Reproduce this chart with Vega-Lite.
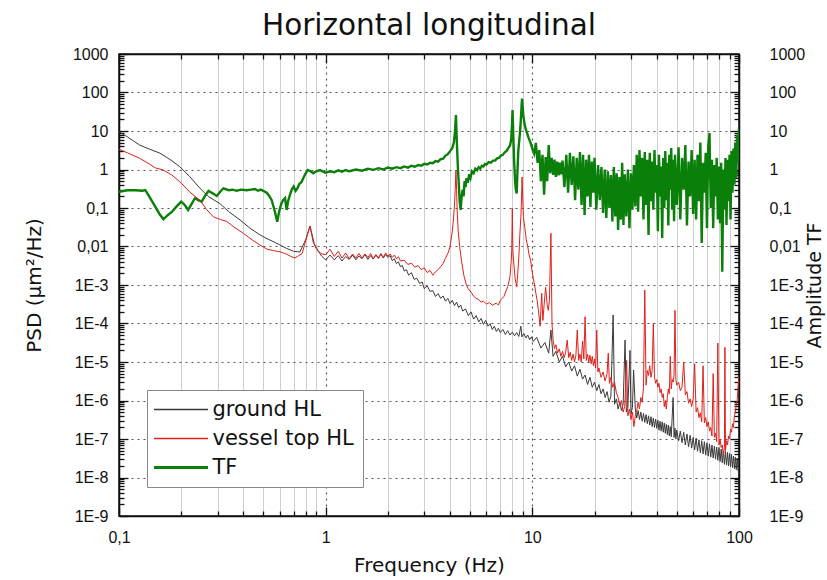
{
  "$schema": "https://vega.github.io/schema/vega-lite/v6.json",
  "width": 620,
  "height": 462,
  "autosize": {"type": "none"},
  "padding": {"left": 119, "top": 54, "right": 88, "bottom": 64},
  "title": {"text": "Horizontal longitudinal", "font": "DejaVu Sans", "fontSize": 29.5, "fontWeight": "normal", "color": "#111", "anchor": "middle", "frame": "group", "offset": 5},
  "datasets": {
    "tf": [
      {"f":0.1,"v":0.265},{"f":0.11,"v":0.29},{"f":0.12,"v":0.29},{"f":0.13,"v":0.28},{"f":0.134,"v":0.29},{"f":0.14,"v":0.2},{"f":0.149,"v":0.113},{"f":0.157,"v":0.07},{"f":0.164,"v":0.051},{"f":0.172,"v":0.065},{"f":0.18,"v":0.079},{"f":0.19,"v":0.11},{"f":0.2,"v":0.146},{"f":0.208,"v":0.12},{"f":0.216,"v":0.089},{"f":0.225,"v":0.13},{"f":0.233,"v":0.179},{"f":0.242,"v":0.16},{"f":0.251,"v":0.146},{"f":0.26,"v":0.2},{"f":0.271,"v":0.28},{"f":0.284,"v":0.24},{"f":0.297,"v":0.205},{"f":0.308,"v":0.26},{"f":0.32,"v":0.325},{"f":0.34,"v":0.29},{"f":0.355,"v":0.3},{"f":0.371,"v":0.28},{"f":0.39,"v":0.3},{"f":0.415,"v":0.29},{"f":0.435,"v":0.3},{"f":0.455,"v":0.31},{"f":0.47,"v":0.28},{"f":0.485,"v":0.3},{"f":0.499,"v":0.28},{"f":0.52,"v":0.245},{"f":0.535,"v":0.2},{"f":0.548,"v":0.16},{"f":0.565,"v":0.09},{"f":0.575,"v":0.06},{"f":0.583,"v":0.044},{"f":0.595,"v":0.08},{"f":0.61,"v":0.13},{"f":0.622,"v":0.16},{"f":0.636,"v":0.18},{"f":0.647,"v":0.089},{"f":0.658,"v":0.15},{"f":0.67,"v":0.21},{"f":0.685,"v":0.3},{"f":0.7,"v":0.36},{"f":0.715,"v":0.28},{"f":0.73,"v":0.325},{"f":0.745,"v":0.42},{"f":0.765,"v":0.48},{"f":0.78,"v":0.6},{"f":0.8,"v":0.8},{"f":0.82,"v":0.97},{"f":0.845,"v":0.9},{"f":0.87,"v":0.8},{"f":0.9,"v":0.9},{"f":0.94,"v":0.97},{"f":0.97,"v":0.88},{"f":1.0,"v":0.83},
      {"f":1.05,"v":0.9},{"f":1.1,"v":0.85},{"f":1.15,"v":0.95},{"f":1.2,"v":0.88},{"f":1.25,"v":0.97},{"f":1.3,"v":0.9},{"f":1.4,"v":1.0},{"f":1.5,"v":0.93},{"f":1.6,"v":1.05},{"f":1.7,"v":0.98},{"f":1.8,"v":1.08},{"f":1.9,"v":1.0},{"f":2.0,"v":1.12},{"f":2.1,"v":1.05},{"f":2.2,"v":1.15},{"f":2.3,"v":1.08},{"f":2.4,"v":1.2},{"f":2.5,"v":1.12},{"f":2.6,"v":1.25},{"f":2.7,"v":1.18},{"f":2.8,"v":1.3},{"f":2.9,"v":1.25},{"f":3.0,"v":1.4},{"f":3.1,"v":1.35},{"f":3.2,"v":1.5},{"f":3.3,"v":1.45},{"f":3.4,"v":1.65},{"f":3.5,"v":1.6},{"f":3.6,"v":1.85},{"f":3.7,"v":1.9},{"f":3.8,"v":2.3},{"f":3.9,"v":2.5},{"f":4.0,"v":3.0},{"f":4.1,"v":3.6},{"f":4.17,"v":5.0},{"f":4.22,"v":9},{"f":4.27,"v":26},{"f":4.3,"v":8},{"f":4.33,"v":3},{"f":4.36,"v":1.2},{"f":4.4,"v":0.5},{"f":4.45,"v":0.15},{"f":4.5,"v":0.089},{"f":4.55,"v":0.2},{"f":4.6,"v":0.3},{"f":4.65,"v":0.2},{"f":4.7,"v":0.5},{"f":4.75,"v":0.35},{"f":4.8,"v":0.6},{"f":4.87,"v":0.45},{"f":4.95,"v":0.75},{"f":5.02,"v":0.6},{"f":5.1,"v":0.9},{"f":5.2,"v":0.8},{"f":5.3,"v":1.05},{"f":5.4,"v":0.95},{"f":5.5,"v":1.15},{"f":5.6,"v":1.05},{"f":5.7,"v":1.25},{"f":5.8,"v":1.2},{"f":5.9,"v":1.4},{"f":6.0,"v":1.35},{"f":6.15,"v":1.55},{"f":6.3,"v":1.5},{"f":6.45,"v":1.7},{"f":6.6,"v":1.7},{"f":6.75,"v":1.95},{"f":6.9,"v":2.0},{"f":7.05,"v":2.3},{"f":7.2,"v":2.4},{"f":7.35,"v":2.8},{"f":7.5,"v":3.0},{"f":7.65,"v":3.6},{"f":7.8,"v":4.2},{"f":7.9,"v":6},{"f":7.96,"v":12},{"f":8.02,"v":35},{"f":8.06,"v":15},{"f":8.1,"v":6},{"f":8.17,"v":1.5},{"f":8.25,"v":0.5},{"f":8.32,"v":0.3},{"f":8.4,"v":0.24},{"f":8.48,"v":1.0},{"f":8.55,"v":3},{"f":8.65,"v":6},{"f":8.75,"v":12},{"f":8.82,"v":25},{"f":8.88,"v":50},{"f":8.92,"v":70},{"f":8.97,"v":45},{"f":9.05,"v":25},{"f":9.15,"v":16},{"f":9.3,"v":11},{"f":9.45,"v":8.5},{"f":9.6,"v":6.5},{"f":9.8,"v":5},{"f":10.0,"v":3.5},{"f":10.2,"v":2.6},
      {"f":10.4,"v":4.9},{"f":10.6,"v":1.5},{"f":10.8,"v":3.2},{"f":11.0,"v":0.5},{"f":11.2,"v":2.4},{"f":11.4,"v":0.22},{"f":11.6,"v":2.1},{"f":11.8,"v":0.5},{"f":12.0,"v":4.3},{"f":12.2,"v":0.8},{"f":12.4,"v":2.0},{"f":12.6,"v":0.72},{"f":12.8,"v":1.8},{"f":13.0,"v":0.64},{"f":13.2,"v":1.6},{"f":13.4,"v":0.7},{"f":13.6,"v":1.5},{"f":13.8,"v":0.75},{"f":14.0,"v":1.7},{"f":14.3,"v":0.35},{"f":14.6,"v":2.4},{"f":14.9,"v":0.25},{"f":15.2,"v":2.7},{"f":15.5,"v":0.4},{"f":15.8,"v":2.2},{"f":16.1,"v":0.16},{"f":16.4,"v":2.0},{"f":16.7,"v":0.3},{"f":17.0,"v":2.85},{"f":17.3,"v":0.12},{"f":17.6,"v":2.4},{"f":17.9,"v":0.066},{"f":18.2,"v":1.8},{"f":18.5,"v":0.2},{"f":18.8,"v":2.4},{"f":19.1,"v":0.106},{"f":19.4,"v":1.6},{"f":19.7,"v":0.25},{"f":20.0,"v":2.0},{"f":20.4,"v":0.09},{"f":20.8,"v":1.3},{"f":21.2,"v":0.16},{"f":21.6,"v":1.16},{"f":22.0,"v":0.074},{"f":22.4,"v":1.0},{"f":22.8,"v":0.055},{"f":23.2,"v":0.9},{"f":23.6,"v":0.1},{"f":24.0,"v":0.72},{"f":24.4,"v":0.045},{"f":24.8,"v":1.16},{"f":25.2,"v":0.06},{"f":25.6,"v":0.8},{"f":26.0,"v":0.027},{"f":26.4,"v":0.64},{"f":26.8,"v":0.05},{"f":27.2,"v":1.5},{"f":27.6,"v":0.036},{"f":28.0,"v":0.75},{"f":28.5,"v":0.06},{"f":29.0,"v":1.0},{"f":29.5,"v":0.03},{"f":30.0,"v":0.8},{"f":30.5,"v":0.09},{"f":31.0,"v":1.3},{"f":31.5,"v":0.11},{"f":32.0,"v":2.4},{"f":32.5,"v":0.08},{"f":33.0,"v":3.2},{"f":33.5,"v":0.2},{"f":34.0,"v":2.0},{"f":34.5,"v":0.05},{"f":35.0,"v":2.85},{"f":35.5,"v":0.12},{"f":36.0,"v":1.8},{"f":36.5,"v":0.02},{"f":37.0,"v":2.7},{"f":37.5,"v":0.15},{"f":38.0,"v":1.6},{"f":38.5,"v":0.09},{"f":39.0,"v":3.2},{"f":39.5,"v":0.25},{"f":40.0,"v":1.3},{"f":40.5,"v":0.025},{"f":41.0,"v":2.4},{"f":41.5,"v":0.2},{"f":42.0,"v":1.2},{"f":42.5,"v":0.0166},{"f":43.0,"v":2.0},{"f":43.5,"v":0.1},{"f":44.0,"v":3.0},{"f":44.5,"v":0.16},{"f":45.0,"v":1.5},{"f":45.5,"v":0.035},{"f":46.0,"v":2.4},{"f":46.5,"v":0.3},{"f":47.0,"v":3.6},{"f":47.5,"v":0.09},{"f":48.0,"v":1.8},{"f":48.5,"v":0.045},{"f":49.0,"v":2.4},{"f":50,"v":0.12},{"f":51,"v":3.8},{"f":52,"v":0.05},{"f":53,"v":2.0},{"f":54,"v":0.3},{"f":55,"v":4.3},{"f":56,"v":0.035},{"f":57,"v":1.6},{"f":58,"v":0.2},{"f":59,"v":3.2},{"f":60,"v":0.07},{"f":61,"v":1.8},{"f":62,"v":0.05},{"f":63,"v":2.4},{"f":64,"v":0.15},{"f":65,"v":5.0},{"f":66,"v":0.0123},{"f":67,"v":1.5},{"f":68,"v":0.25},{"f":69,"v":2.7},{"f":70,"v":0.03},{"f":71,"v":4.0},{"f":72,"v":8.9},{"f":73,"v":0.1},{"f":74,"v":1.8},{"f":75,"v":0.03},{"f":76,"v":1.3},{"f":77,"v":0.2},{"f":78,"v":2.0},{"f":79,"v":0.05},{"f":80,"v":1.2},{"f":81,"v":0.04},{"f":82,"v":1.5},{"f":83,"v":0.0022},{"f":84,"v":1.0},{"f":85,"v":0.09},{"f":86,"v":2.0},{"f":87,"v":0.036},{"f":88,"v":1.8},{"f":89,"v":0.15},{"f":90,"v":2.4},{"f":91,"v":0.05},{"f":92,"v":3.0},{"f":93,"v":0.25},{"f":94,"v":3.5},{"f":95,"v":0.4},{"f":96,"v":5.0},{"f":97,"v":0.6},{"f":98,"v":8.0},{"f":99,"v":1.5},{"f":100,"v":12.7}
    ],
    "ground": [
      {"f":0.1,"v":9.6},{"f":0.11,"v":7.0},{"f":0.126,"v":4.3},{"f":0.14,"v":3.4},{"f":0.158,"v":2.65},{"f":0.18,"v":1.7},{"f":0.197,"v":1.18},{"f":0.22,"v":0.65},{"f":0.246,"v":0.33},{"f":0.27,"v":0.2},{"f":0.308,"v":0.13},{"f":0.34,"v":0.08},{"f":0.385,"v":0.049},{"f":0.43,"v":0.03},{"f":0.481,"v":0.02},{"f":0.52,"v":0.016},{"f":0.57,"v":0.0127},{"f":0.6,"v":0.011},{"f":0.647,"v":0.0089},{"f":0.7,"v":0.0075},{"f":0.75,"v":0.0072},{"f":0.8,"v":0.015},{"f":0.84,"v":0.034},{"f":0.88,"v":0.012},{"f":0.92,"v":0.0075},{"f":0.96,"v":0.0055},{"f":1.0,"v":0.0045},
      {"f":1.05,"v":0.006},{"f":1.1,"v":0.0045},{"f":1.15,"v":0.0058},{"f":1.2,"v":0.0042},{"f":1.25,"v":0.0055},{"f":1.3,"v":0.0046},{"f":1.35,"v":0.006},{"f":1.4,"v":0.0045},{"f":1.45,"v":0.0057},{"f":1.5,"v":0.0048},{"f":1.55,"v":0.0062},{"f":1.6,"v":0.0046},{"f":1.65,"v":0.0058},{"f":1.7,"v":0.0047},{"f":1.75,"v":0.006},{"f":1.8,"v":0.0049},{"f":1.85,"v":0.0064},{"f":1.9,"v":0.005},{"f":1.95,"v":0.0062},{"f":2.0,"v":0.0052},{"f":2.05,"v":0.0058},{"f":2.1,"v":0.0043},{"f":2.15,"v":0.0048},{"f":2.2,"v":0.0036},{"f":2.25,"v":0.004},{"f":2.3,"v":0.003},{"f":2.35,"v":0.0032},{"f":2.4,"v":0.0023},{"f":2.46,"v":0.0025},{"f":2.52,"v":0.0018},{"f":2.6,"v":0.0021},{"f":2.68,"v":0.0014},{"f":2.76,"v":0.0015},{"f":2.85,"v":0.0011},{"f":2.93,"v":0.0012},{"f":3.0,"v":0.0008},{"f":3.1,"v":0.00095},{"f":3.2,"v":0.00068},{"f":3.3,"v":0.00072},{"f":3.4,"v":0.0005},{"f":3.5,"v":0.0006},{"f":3.6,"v":0.00045},{"f":3.7,"v":0.00052},{"f":3.8,"v":0.00038},{"f":3.9,"v":0.00045},{"f":4.0,"v":0.00033},{"f":4.1,"v":0.0004},{"f":4.2,"v":0.00029},{"f":4.3,"v":0.00036},{"f":4.4,"v":0.00026},{"f":4.5,"v":0.0003},{"f":4.6,"v":0.00021},{"f":4.75,"v":0.00024},{"f":4.9,"v":0.00016},{"f":5.05,"v":0.0002},{"f":5.2,"v":0.00013},{"f":5.35,"v":0.00016},{"f":5.5,"v":0.00011},{"f":5.65,"v":0.000135},{"f":5.8,"v":0.000095},{"f":5.95,"v":0.00012},{"f":6.1,"v":0.000085},{"f":6.25,"v":0.0001},{"f":6.4,"v":0.00007},{"f":6.55,"v":0.000085},{"f":6.7,"v":0.000062},{"f":6.85,"v":0.000075},{"f":7.0,"v":0.000058},{"f":7.2,"v":0.00007},{"f":7.4,"v":0.000052},{"f":7.6,"v":0.000065},{"f":7.8,"v":0.00005},{"f":8.0,"v":0.00006},{"f":8.2,"v":0.000048},{"f":8.4,"v":0.000058},{"f":8.6,"v":0.000046},{"f":8.8,"v":0.000085},{"f":8.9,"v":0.000045},{"f":9.1,"v":0.000055},{"f":9.3,"v":0.000042},{"f":9.5,"v":0.00005},{"f":9.7,"v":0.000038},{"f":9.9,"v":0.000045},{"f":10.1,"v":0.000034},
      {"f":10.5,"v":4.4e-5},{"f":11.0,"v":2.3e-5},{"f":11.5,"v":3.2e-5},{"f":12.0,"v":1.7e-5},{"f":12.3,"v":6.8e-5},{"f":12.6,"v":1.4e-5},{"f":13.0,"v":1.9e-5},{"f":13.5,"v":1.0e-5},{"f":14.0,"v":1.4e-5},{"f":14.5,"v":7.5e-6},{"f":15.0,"v":1.0e-5},{"f":15.5,"v":5.8e-6},{"f":16.0,"v":8.0e-6},{"f":16.5,"v":4.3e-6},{"f":17.0,"v":6.5e-6},{"f":17.5,"v":3.6e-6},{"f":18.0,"v":4.6e-6},{"f":18.5,"v":2.6e-6},{"f":19.0,"v":4.0e-6},{"f":19.5,"v":2.2e-6},{"f":20.0,"v":3.0e-6},{"f":20.5,"v":1.8e-6},{"f":21.0,"v":2.6e-6},{"f":21.5,"v":1.5e-6},{"f":22.0,"v":2.0e-6},{"f":22.5,"v":1.2e-6},{"f":23.0,"v":1.7e-6},{"f":23.5,"v":9e-7},{"f":24.0,"v":1.3e-6},{"f":24.6,"v":1.66e-4},{"f":25.0,"v":8e-7},{"f":25.5,"v":1.1e-6},{"f":26.0,"v":6e-7},{"f":26.5,"v":9e-7},{"f":27.0,"v":5.5e-7},{"f":27.5,"v":8e-7},{"f":28.1,"v":3.7e-5},{"f":28.5,"v":5e-7},{"f":29.0,"v":7e-7},{"f":29.7,"v":2e-5},{"f":30.0,"v":4.5e-7},{"f":30.5,"v":6.5e-7},{"f":30.9,"v":6.2e-6},{"f":31.5,"v":6e-7},{"f":32.0,"v":3.5e-7},{"f":32.5,"v":5.5e-7},{"f":33.0,"v":3.2e-7},{"f":33.5,"v":5e-7},{"f":34.0,"v":2.9e-7},{"f":34.5,"v":4.6e-7},{"f":35.0,"v":2.7e-7},{"f":35.5,"v":4.3e-7},{"f":36.0,"v":2.5e-7},{"f":36.5,"v":4e-7},{"f":37.0,"v":2.3e-7},{"f":37.5,"v":3.8e-7},{"f":38.0,"v":2.1e-7},{"f":38.5,"v":3.5e-7},{"f":39.0,"v":2e-7},{"f":39.5,"v":3.3e-7},{"f":40.0,"v":1.9e-7},{"f":40.5,"v":3.1e-7},{"f":41.0,"v":1.7e-7},{"f":41.5,"v":2.9e-7},{"f":42.0,"v":1.6e-7},{"f":42.5,"v":2.8e-7},{"f":43.0,"v":1.5e-7},{"f":43.5,"v":2.6e-7},{"f":44.0,"v":1.4e-7},{"f":44.5,"v":2.4e-7},{"f":45.0,"v":1.3e-7},{"f":45.5,"v":2.3e-7},{"f":46.0,"v":1.2e-7},{"f":46.5,"v":2.1e-7},{"f":47.0,"v":1.15e-7},{"f":48.0,"v":1.2e-6},{"f":48.5,"v":1.1e-7},{"f":49.0,"v":1.9e-7},{"f":49.5,"v":1e-7},
      {"f":50,"v":1.7e-7},{"f":51,"v":9e-8},{"f":52,"v":1.6e-7},{"f":53,"v":8e-8},{"f":54,"v":1.5e-7},{"f":55,"v":7e-8},{"f":56,"v":1.35e-7},{"f":57,"v":6.2e-8},{"f":58,"v":1.25e-7},{"f":59,"v":5.8e-8},{"f":60,"v":1.1e-7},{"f":61,"v":5.2e-8},{"f":62,"v":1.05e-7},{"f":63,"v":4.8e-8},{"f":64,"v":9.5e-8},{"f":65,"v":4.4e-8},{"f":66,"v":9e-8},{"f":67,"v":4.1e-8},{"f":68,"v":8.5e-8},{"f":69,"v":3.8e-8},{"f":70,"v":8e-8},{"f":71,"v":3.6e-8},{"f":72,"v":7.5e-8},{"f":73,"v":3.4e-8},{"f":74,"v":7e-8},{"f":75,"v":3.2e-8},{"f":76,"v":6.5e-8},{"f":77,"v":3e-8},{"f":78,"v":6.2e-8},{"f":79,"v":2.8e-8},{"f":80,"v":6e-8},{"f":81,"v":2.6e-8},{"f":82,"v":5.5e-8},{"f":83,"v":2.4e-8},{"f":84,"v":5e-8},{"f":85,"v":2.2e-8},{"f":86,"v":4.8e-8},{"f":87,"v":2.1e-8},{"f":88,"v":4.5e-8},{"f":89,"v":2e-8},{"f":90,"v":4.2e-8},{"f":91,"v":1.9e-8},{"f":92,"v":4e-8},{"f":93,"v":1.8e-8},{"f":94,"v":3.6e-8},{"f":95,"v":1.7e-8},{"f":96,"v":3.4e-8},{"f":97,"v":1.6e-8},{"f":98,"v":3.2e-8},{"f":99,"v":1.5e-8},{"f":100,"v":2.2e-8}
    ],
    "vessel": [
      {"f":0.1,"v":3.35},{"f":0.11,"v":2.7},{"f":0.126,"v":1.95},{"f":0.14,"v":1.4},{"f":0.15,"v":1.1},{"f":0.164,"v":0.97},{"f":0.18,"v":0.72},{"f":0.197,"v":0.48},{"f":0.22,"v":0.26},{"f":0.246,"v":0.16},{"f":0.266,"v":0.09},{"f":0.286,"v":0.059},{"f":0.31,"v":0.05},{"f":0.332,"v":0.045},{"f":0.36,"v":0.032},{"f":0.4,"v":0.022},{"f":0.44,"v":0.015},{"f":0.48,"v":0.011},{"f":0.52,"v":0.0085},{"f":0.56,"v":0.0078},{"f":0.6,"v":0.0073},{"f":0.64,"v":0.0065},{"f":0.68,"v":0.0055},{"f":0.71,"v":0.005},{"f":0.74,"v":0.0058},{"f":0.77,"v":0.0066},{"f":0.8,"v":0.014},{"f":0.84,"v":0.034},{"f":0.87,"v":0.013},{"f":0.9,"v":0.0089},{"f":0.95,"v":0.0065},{"f":1.0,"v":0.0061},
      {"f":1.05,"v":0.0085},{"f":1.1,"v":0.0055},{"f":1.15,"v":0.0075},{"f":1.2,"v":0.005},{"f":1.25,"v":0.0068},{"f":1.3,"v":0.0048},{"f":1.35,"v":0.0064},{"f":1.4,"v":0.005},{"f":1.45,"v":0.0066},{"f":1.5,"v":0.005},{"f":1.55,"v":0.0064},{"f":1.6,"v":0.0052},{"f":1.65,"v":0.0066},{"f":1.7,"v":0.0048},{"f":1.75,"v":0.0062},{"f":1.8,"v":0.005},{"f":1.85,"v":0.0066},{"f":1.9,"v":0.0052},{"f":1.95,"v":0.0068},{"f":2.0,"v":0.0056},{"f":2.05,"v":0.0064},{"f":2.1,"v":0.0052},{"f":2.15,"v":0.006},{"f":2.2,"v":0.0048},{"f":2.25,"v":0.0054},{"f":2.3,"v":0.0042},{"f":2.4,"v":0.0044},{"f":2.5,"v":0.0034},{"f":2.6,"v":0.0037},{"f":2.7,"v":0.0029},{"f":2.8,"v":0.0032},{"f":2.9,"v":0.0025},{"f":3.0,"v":0.0028},{"f":3.1,"v":0.0021},{"f":3.2,"v":0.0024},{"f":3.3,"v":0.0018},{"f":3.4,"v":0.0022},{"f":3.5,"v":0.0025},{"f":3.6,"v":0.003},{"f":3.7,"v":0.0036},{"f":3.8,"v":0.005},{"f":3.9,"v":0.0065},{"f":4.0,"v":0.01},{"f":4.1,"v":0.025},{"f":4.15,"v":0.049},{"f":4.2,"v":0.12},{"f":4.24,"v":0.35},{"f":4.27,"v":0.97},{"f":4.3,"v":0.3},{"f":4.33,"v":0.08},{"f":4.38,"v":0.025},{"f":4.45,"v":0.01},{"f":4.55,"v":0.004},{"f":4.67,"v":0.0017},{"f":4.8,"v":0.001},{"f":4.9,"v":0.0008},{"f":5.0,"v":0.0007},{"f":5.1,"v":0.0006},{"f":5.2,"v":0.00051},{"f":5.35,"v":0.00045},{"f":5.5,"v":0.00042},{"f":5.65,"v":0.00036},{"f":5.8,"v":0.00038},{"f":6.0,"v":0.00032},{"f":6.2,"v":0.00035},{"f":6.4,"v":0.0003},{"f":6.7,"v":0.00034},{"f":6.85,"v":0.0003},{"f":7.0,"v":0.0004},{"f":7.15,"v":0.00045},{"f":7.3,"v":0.00051},{"f":7.45,"v":0.0007},{"f":7.6,"v":0.0009},{"f":7.7,"v":0.0012},{"f":7.8,"v":0.0017},{"f":7.9,"v":0.004},{"f":7.95,"v":0.008},{"f":8.0,"v":0.098},{"f":8.05,"v":0.008},{"f":8.12,"v":0.004},{"f":8.25,"v":0.0015},{"f":8.4,"v":0.0009},{"f":8.5,"v":0.002},{"f":8.6,"v":0.005},{"f":8.7,"v":0.02},{"f":8.8,"v":0.06},{"f":8.86,"v":0.15},{"f":8.92,"v":0.64},{"f":8.98,"v":0.2},{"f":9.05,"v":0.06},{"f":9.2,"v":0.03},{"f":9.35,"v":0.015},{"f":9.5,"v":0.01},{"f":9.65,"v":0.006},{"f":9.8,"v":0.0045},{"f":9.95,"v":0.0025},{"f":10.1,"v":0.0015},{"f":10.25,"v":0.001},{"f":10.4,"v":0.00061},{"f":10.55,"v":0.0004},{"f":10.7,"v":0.00022},{"f":10.9,"v":0.000085},
      {"f":11.1,"v":0.00061},{"f":11.25,"v":0.00012},{"f":11.4,"v":0.0003},{"f":11.6,"v":0.00087},{"f":11.8,"v":0.0003},{"f":11.95,"v":0.00022},{"f":12.1,"v":0.0004},{"f":12.3,"v":0.022},{"f":12.45,"v":0.0001},{"f":12.6,"v":3.7e-5},{"f":12.8,"v":2.2e-5},{"f":13.0,"v":2.8e-5},{"f":13.25,"v":1.7e-5},{"f":13.5,"v":2.2e-5},{"f":13.75,"v":1.4e-5},{"f":14.0,"v":1.9e-5},{"f":14.25,"v":1.3e-5},{"f":14.5,"v":1.8e-5},{"f":14.75,"v":3.7e-5},{"f":15.0,"v":1.3e-5},{"f":15.25,"v":1.8e-5},{"f":15.5,"v":1.1e-5},{"f":15.75,"v":1.6e-5},{"f":16.0,"v":1.0e-5},{"f":16.25,"v":1.5e-5},{"f":16.5,"v":6.8e-5},{"f":16.75,"v":1.1e-5},{"f":17.0,"v":1.6e-5},{"f":17.25,"v":1.0e-5},{"f":17.5,"v":3.5e-5},{"f":17.75,"v":1.2e-5},{"f":18.0,"v":1.5e-4},{"f":18.25,"v":1.1e-5},{"f":18.5,"v":1.6e-5},{"f":18.75,"v":1.0e-5},{"f":19.0,"v":1.5e-5},{"f":19.25,"v":9e-6},{"f":19.5,"v":1.4e-5},{"f":19.75,"v":8e-6},{"f":20.0,"v":1.2e-5},{"f":20.25,"v":7e-6},{"f":20.5,"v":6.8e-5},{"f":20.75,"v":5.5e-6},{"f":21.0,"v":7e-6},{"f":21.5,"v":4e-6},{"f":22.0,"v":5.5e-6},{"f":22.5,"v":3.2e-6},{"f":23.0,"v":5e-6},{"f":23.3,"v":1.7e-5},{"f":23.6,"v":2.8e-6},{"f":24.0,"v":4e-6},{"f":24.5,"v":2.2e-6},{"f":25.0,"v":3e-6},{"f":25.5,"v":1.6e-6},{"f":26.0,"v":1.2e-6},{"f":26.5,"v":7.5e-7},{"f":27.0,"v":1e-6},{"f":27.5,"v":5e-7},{"f":28.0,"v":7e-7},{"f":28.6,"v":1.1e-5},{"f":29.0,"v":4e-7},{"f":29.5,"v":6e-7},{"f":30.0,"v":3.2e-7},{"f":30.5,"v":5e-7},{"f":31.0,"v":2.1e-7},{"f":31.5,"v":4e-7},{"f":32.0,"v":5.5e-7},{"f":32.5,"v":9e-7},{"f":33.0,"v":6e-7},{"f":33.5,"v":1.2e-6},{"f":34.0,"v":9e-7},{"f":34.5,"v":2.2e-6},{"f":35.0,"v":7.4e-4},{"f":35.5,"v":2.5e-6},{"f":36.0,"v":6e-6},{"f":36.5,"v":4.5e-6},{"f":37.0,"v":8e-6},{"f":37.5,"v":4e-6},{"f":38.0,"v":6e-6},{"f":38.5,"v":1e-4},{"f":39.0,"v":4e-6},{"f":39.5,"v":2.8e-6},{"f":40.0,"v":3.5e-6},{"f":40.5,"v":2.2e-6},{"f":41.0,"v":2.8e-6},{"f":41.5,"v":1.6e-6},{"f":42.0,"v":2e-6},{"f":42.5,"v":1.2e-6},{"f":43.0,"v":1.5e-6},{"f":43.5,"v":6.9e-7},{"f":44.0,"v":1e-6},{"f":44.5,"v":6e-7},{"f":45.0,"v":1.2e-6},{"f":45.5,"v":2e-6},{"f":46.0,"v":1.5e-6},{"f":46.5,"v":1.4e-5},{"f":47.0,"v":2e-6},{"f":47.5,"v":3.5e-6},{"f":48.0,"v":3e-6},{"f":48.5,"v":4.5e-6},{"f":49.0,"v":2.2e-4},{"f":49.5,"v":3.5e-6},{"f":50.0,"v":2.5e-6},{"f":51.0,"v":3e-6},{"f":52.0,"v":1.8e-6},{"f":53.0,"v":2.2e-6},{"f":54.0,"v":1e-5},{"f":55.0,"v":1.4e-6},{"f":56.0,"v":1.7e-6},{"f":57.0,"v":8.5e-7},{"f":58.0,"v":1.1e-6},{"f":59.0,"v":7e-7},{"f":60.0,"v":1.1e-6},{"f":61.0,"v":9e-6},{"f":62.0,"v":5e-7},{"f":63.0,"v":6.5e-7},{"f":64.0,"v":3.6e-7},{"f":65.0,"v":4.8e-7},{"f":66.0,"v":2.8e-7},{"f":67.0,"v":8e-6},{"f":68.0,"v":2.6e-7},{"f":69.0,"v":3.6e-7},{"f":70.0,"v":2.1e-7},{"f":71.0,"v":2.8e-7},{"f":72.0,"v":1.6e-7},{"f":73.0,"v":2e-7},{"f":74.0,"v":1.2e-7},{"f":75.0,"v":5e-6},{"f":76.0,"v":1.1e-7},{"f":77.0,"v":1.4e-7},{"f":78.0,"v":8.5e-8},{"f":79.0,"v":3.1e-5},{"f":80.0,"v":7e-8},{"f":81.0,"v":1e-7},{"f":82.0,"v":6e-8},{"f":83.0,"v":7e-8},{"f":84.0,"v":3.8e-8},{"f":85.0,"v":6e-8},{"f":85.5,"v":2.4e-5},{"f":86.0,"v":5e-8},{"f":87.0,"v":9e-8},{"f":88.0,"v":7e-8},{"f":89.0,"v":1.2e-7},{"f":90.0,"v":1e-7},{"f":91.0,"v":1.8e-7},{"f":92.0,"v":1.5e-7},{"f":93.0,"v":2.5e-7},{"f":94.0,"v":2e-7},{"f":95.0,"v":4e-7},{"f":96.0,"v":5e-7},{"f":97.0,"v":8e-7},{"f":98.0,"v":1e-6},{"f":99.0,"v":2.5e-6},{"f":100.0,"v":4.1e-6}
    ]
  },
  "layer": [
    {
      "data": {"name": "tf"},
      "mark": {"type": "line", "strokeWidth": 2.4, "clip": true},
      "encoding": {
        "x": {"field": "f", "type": "quantitative",
              "scale": {"type": "log", "domain": [0.1, 100], "nice": false},
              "axis": {"orient": "top", "values": [0.1, 1, 10, 100], "tickSize": -9, "labels": false, "grid": false, "title": null}},
        "y": {"field": "v", "type": "quantitative",
              "scale": {"type": "log", "domain": [1e-9, 1000], "nice": false},
              "axis": {"orient": "right", "values": [1e-9, 1e-8, 1e-7, 1e-6, 1e-5, 1e-4, 0.001, 0.01, 0.1, 1, 10, 100, 1000],
                       "labelExpr": "datum.value >= 1 ? format(datum.value, 'd') : datum.value >= 0.01 ? replace(format(datum.value, '~g'), '.', ',') : '1E' + round(log(datum.value) / LN10)",
                       "tickSize": -9, "labelPadding": 39, "grid": false, "labelFlush": false, "labelOverlap": false,
                       "title": "Amplitude TF", "titleFontSize": 19, "titleAngle": 270, "titleBaseline": "top", "titlePadding": 1}},
        "color": {"datum": "TF",
                  "scale": {"domain": ["ground HL", "vessel top HL", "TF"], "range": ["#3a3a3a", "#e0201a", "#0a7f0a"]},
                  "legend": {"orient": "none", "legendX": 28, "legendY": 336, "direction": "vertical", "title": null,
                             "symbolType": "M-27,0H27", "symbolSize": 4, "symbolOffset": 14.5, "labelOffset": 21,
                             "labelFont": "DejaVu Sans", "labelFontSize": 21, "labelColor": "#111",
                             "padding": 9, "rowPadding": 7, "strokeColor": "#888", "fillColor": "#ffffff",
                             "encode": {"symbols": {"update": {"strokeWidth": {"signal": "datum.value === 'TF' ? 3 : 1.5"}}}}}}
      }
    },
    {
      "data": {"name": "ground"},
      "mark": {"type": "line", "strokeWidth": 1, "clip": true},
      "encoding": {
        "x": {"field": "f", "type": "quantitative",
              "scale": {"type": "log", "domain": [0.1, 100], "nice": false},
              "axis": {"orient": "bottom", "values": [0.1, 1, 10, 100],
                       "labelExpr": "datum.value < 1 ? replace(format(datum.value, '~g'), '.', ',') : format(datum.value, 'd')",
                       "tickSize": -9, "labelPadding": 22, "labelFlush": false, "labelOverlap": false,
                       "grid": true, "gridColor": "#555", "gridDash": [2, 4], "gridWidth": 1.2,
                       "title": "Frequency (Hz)", "titlePadding": 10}},
        "y": {"field": "v", "type": "quantitative",
              "scale": {"type": "log", "domain": [1e-9, 1000], "nice": false},
              "axis": {"orient": "left", "values": [1e-9, 1e-8, 1e-7, 1e-6, 1e-5, 1e-4, 0.001, 0.01, 0.1, 1, 10, 100, 1000],
                       "labelExpr": "datum.value >= 1 ? format(datum.value, 'd') : datum.value >= 0.01 ? replace(format(datum.value, '~g'), '.', ',') : '1E' + round(log(datum.value) / LN10)",
                       "tickSize": -9, "labelPadding": 20, "labelFlush": false, "labelOverlap": false,
                       "grid": true, "gridColor": "#555", "gridDash": [2, 4], "gridWidth": 1.2,
                       "title": "PSD (µm²/Hz)", "titlePadding": 28}},
        "color": {"datum": "ground HL"}
      }
    },
    {
      "data": {"name": "vessel"},
      "mark": {"type": "line", "strokeWidth": 1, "clip": true},
      "encoding": {
        "x": {"field": "f", "type": "quantitative",
              "scale": {"type": "log", "domain": [0.1, 100], "nice": false},
              "axis": {"orient": "bottom", "values": [0.2, 0.3, 0.4, 0.5, 0.6, 0.7, 0.8, 0.9, 2, 3, 4, 5, 6, 7, 8, 9, 20, 30, 40, 50, 60, 70, 80, 90],
                       "tickSize": -5, "labels": false, "domain": false, "grid": true, "gridColor": "#cfcfcf", "gridWidth": 1, "title": null}},
        "y": {"field": "v", "type": "quantitative",
              "scale": {"type": "log", "domain": [1e-9, 1000], "nice": false},
              "axis": {"orient": "left", "values": [2e-9, 3e-9, 4e-9, 5e-9, 6e-9, 7e-9, 8e-9, 9e-9, 2e-8, 3e-8, 4e-8, 5e-8, 6e-8, 7e-8, 8e-8, 9e-8, 2e-7, 3e-7, 4e-7, 5e-7, 6e-7, 7e-7, 8e-7, 9e-7, 2e-6, 3e-6, 4e-6, 5e-6, 6e-6, 7e-6, 8e-6, 9e-6, 2e-5, 3e-5, 4e-5, 5e-5, 6e-5, 7e-5, 8e-5, 9e-5, 2e-4, 3e-4, 4e-4, 5e-4, 6e-4, 7e-4, 8e-4, 9e-4, 0.002, 0.003, 0.004, 0.005, 0.006, 0.007, 0.008, 0.009, 0.02, 0.03, 0.04, 0.05, 0.06, 0.07, 0.08, 0.09, 0.2, 0.3, 0.4, 0.5, 0.6, 0.7, 0.8, 0.9, 2, 3, 4, 5, 6, 7, 8, 9, 20, 30, 40, 50, 60, 70, 80, 90, 200, 300, 400, 500, 600, 700, 800, 900],
                       "tickSize": -5, "labels": false, "domain": false, "grid": false, "title": null}},
        "color": {"datum": "vessel top HL"}
      }
    },
    {
      "data": {"name": "tf"},
      "mark": {"type": "point", "opacity": 0},
      "encoding": {
        "x": {"field": "f", "type": "quantitative",
              "scale": {"type": "log", "domain": [0.1, 100], "nice": false},
              "axis": {"orient": "top", "values": [0.2, 0.3, 0.4, 0.5, 0.6, 0.7, 0.8, 0.9, 2, 3, 4, 5, 6, 7, 8, 9, 20, 30, 40, 50, 60, 70, 80, 90],
                       "tickSize": -5, "labels": false, "domain": false, "grid": false, "title": null}},
        "y": {"field": "v", "type": "quantitative",
              "scale": {"type": "log", "domain": [1e-9, 1000], "nice": false},
              "axis": {"orient": "right", "values": [2e-9, 3e-9, 4e-9, 5e-9, 6e-9, 7e-9, 8e-9, 9e-9, 2e-8, 3e-8, 4e-8, 5e-8, 6e-8, 7e-8, 8e-8, 9e-8, 2e-7, 3e-7, 4e-7, 5e-7, 6e-7, 7e-7, 8e-7, 9e-7, 2e-6, 3e-6, 4e-6, 5e-6, 6e-6, 7e-6, 8e-6, 9e-6, 2e-5, 3e-5, 4e-5, 5e-5, 6e-5, 7e-5, 8e-5, 9e-5, 2e-4, 3e-4, 4e-4, 5e-4, 6e-4, 7e-4, 8e-4, 9e-4, 0.002, 0.003, 0.004, 0.005, 0.006, 0.007, 0.008, 0.009, 0.02, 0.03, 0.04, 0.05, 0.06, 0.07, 0.08, 0.09, 0.2, 0.3, 0.4, 0.5, 0.6, 0.7, 0.8, 0.9, 2, 3, 4, 5, 6, 7, 8, 9, 20, 30, 40, 50, 60, 70, 80, 90, 200, 300, 400, 500, 600, 700, 800, 900],
                       "tickSize": -5, "labels": false, "domain": false, "grid": false, "title": null}}
      }
    }
  ],
  "resolve": {"axis": {"x": "independent", "y": "independent"}},
  "config": {
    "background": "#ffffff",
    "view": {"stroke": "#111", "strokeWidth": 1.5},
    "axis": {"labelFont": "Liberation Sans", "labelFontSize": 16, "labelColor": "#111",
             "titleFont": "DejaVu Sans", "titleFontSize": 20, "titleFontWeight": "normal", "titleColor": "#111",
             "tickColor": "#111", "tickWidth": 1.3, "domainColor": "#111", "domainWidth": 1.5}
  }
}
